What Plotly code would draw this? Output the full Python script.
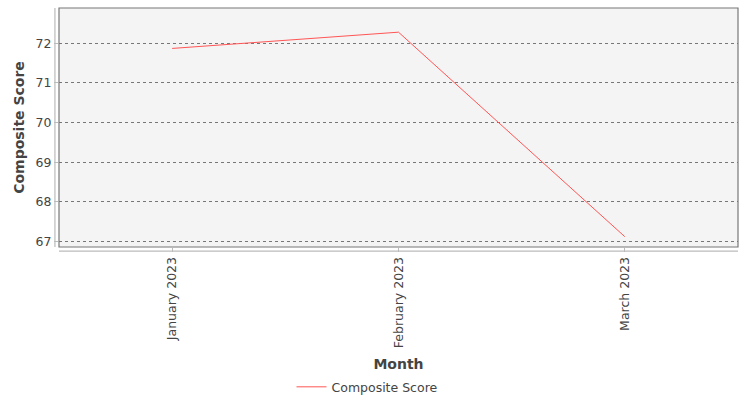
import plotly.graph_objects as go

# data
months = ["January 2023", "February 2023", "March 2023"]
composite_score = [71.87, 72.28, 67.12]
y_ticks = [67, 68, 69, 70, 71, 72]

FONT = "DejaVu Sans"

fig = go.Figure()
fig.add_trace(go.Scatter(
    x=months, y=composite_score,
    mode="lines",
    name="Composite Score",
    line=dict(color="#ff5555", width=1),
))

# dark border around the plot area
fig.add_shape(type="rect", xref="paper", yref="paper", x0=0, y0=0, x1=1, y1=1,
              line=dict(color="#777777", width=1.2), layer="above")
# offset light axis lines like the original
fig.add_shape(type="line", xref="paper", yref="paper", x0=-0.006, x1=-0.006, y0=0, y1=1,
              line=dict(color="#bbbbbb", width=1.2))
fig.add_shape(type="line", xref="paper", yref="paper", x0=0, x1=1, y0=-0.017, y1=-0.017,
              line=dict(color="#bbbbbb", width=1.2))

fig.update_layout(
    width=750, height=400,
    margin=dict(l=59, r=12, t=8, b=153),
    paper_bgcolor="white",
    plot_bgcolor="#f4f4f4",
    font=dict(family=FONT, size=12.5, color="#444444"),
    showlegend=True,
    legend=dict(orientation="h", xref="container", x=0.49, xanchor="center",
                yref="container", y=0.032, yanchor="middle",
                font=dict(family=FONT, size=12.5, color="#444444")),
    xaxis=dict(
        title=dict(text="<b>Month</b>", font=dict(family=FONT, size=14, color="#444444"), standoff=24),
        automargin=False,
        range=[-0.5, 2.5],
        tickangle=-90,
        ticks="outside", ticklen=4, tickcolor="#bbbbbb",
        showgrid=False, showline=False, zeroline=False,
        tickfont=dict(family=FONT, size=12.5, color="#444444"),
    ),
    yaxis=dict(
        title=dict(text="<b>Composite Score</b>", font=dict(family=FONT, size=14, color="#444444"), standoff=7),
        automargin=False,
        range=[66.86, 72.89],
        tickvals=y_ticks,
        ticks="outside", ticklen=4, tickcolor="#bbbbbb",
        showgrid=True, gridcolor="#777777", griddash="dot", gridwidth=1,
        showline=False, zeroline=False,
        tickfont=dict(family=FONT, size=12.5, color="#444444"),
    ),
)

fig.write_html("out.html", config={"displayModeBar": False},
               post_script="document.body.style.margin='0';")
